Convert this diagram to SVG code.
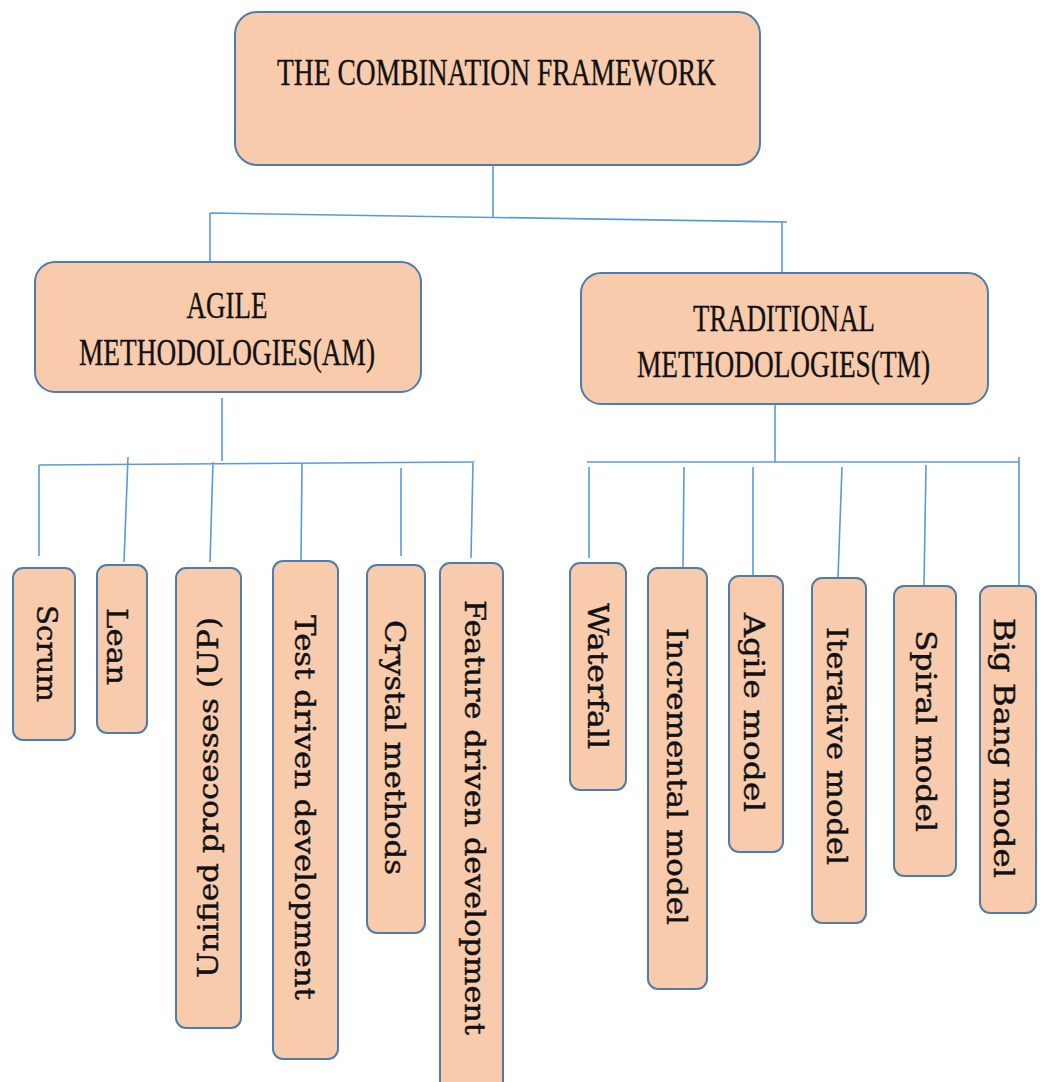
<svg xmlns="http://www.w3.org/2000/svg" width="1043" height="1082" viewBox="0 0 1043 1082">
<style>
.box{fill:#F7CBAC;stroke:#4F7DAB;stroke-width:2}
.head{font-family:"Liberation Serif","Times New Roman",serif;font-size:37px;fill:#111111;stroke:#111111;stroke-width:0.3;text-anchor:middle}
.leaf{font-family:"DejaVu Serif","Liberation Serif",serif;font-size:28px;fill:#111111;stroke:#111111;stroke-width:0.4;text-anchor:middle}
.ln{stroke:#5B9BD5;stroke-width:1.6;fill:none}
</style>
<rect width="1043" height="1082" fill="#ffffff"/>
<g id="connectors">
<path class="ln" d="M493 165V217M210 213L787 222M210 213V262M782 221V273"/>
<path class="ln" d="M222 398V461M39 465L474 462M39 465V556M128 457L124 562M213 462L210 562M302 463L301 560M401 468V556M473 462L471 558"/>
<path class="ln" d="M775 404V462M587 462H1019M1019 457V587M589 467V558M684 467L683 567M753 467V575M842 467L838 578M926 465L924 585"/>
</g>
<g id="root"><rect class="box" x="235" y="12" width="525" height="153" rx="22"/><text class="head" x="496.5" y="85" textLength="439" lengthAdjust="spacingAndGlyphs">THE COMBINATION FRAMEWORK</text></g>
<g id="agile"><rect class="box" x="35" y="262" width="386" height="130" rx="20"/><text class="head" x="227" y="318" textLength="81" lengthAdjust="spacingAndGlyphs">AGILE</text><text class="head" x="227" y="365" textLength="296" lengthAdjust="spacingAndGlyphs">METHODOLOGIES(AM)</text></g>
<g id="traditional"><rect class="box" x="581" y="273" width="407" height="131" rx="20"/><text class="head" x="784" y="331" textLength="182" lengthAdjust="spacingAndGlyphs">TRADITIONAL</text><text class="head" x="783.5" y="377" textLength="293" lengthAdjust="spacingAndGlyphs">METHODOLOGIES(TM)</text></g>
<g id="scrum"><rect class="box" x="13" y="568" width="62" height="172" rx="10"/><text class="leaf" transform="translate(36.5 653.5) rotate(90)" textLength="97" lengthAdjust="spacingAndGlyphs">Scrum</text></g>
<g id="lean"><rect class="box" x="97" y="565" width="50" height="168" rx="10"/><text class="leaf" transform="translate(106.5 646.5) rotate(90)" textLength="77" lengthAdjust="spacingAndGlyphs">Lean</text></g>
<g id="unified"><rect class="box" x="176" y="568" width="65" height="460" rx="10"/><text class="leaf" transform="translate(217.5 797.5) rotate(-90)" textLength="361" lengthAdjust="spacingAndGlyphs">Unified processes (UP)</text></g>
<g id="tdd"><rect class="box" x="273" y="561" width="65" height="498" rx="10"/><text class="leaf" transform="translate(294.5 807.5) rotate(90)" textLength="385" lengthAdjust="spacingAndGlyphs">Test driven development</text></g>
<g id="crystal"><rect class="box" x="367" y="565" width="58" height="368" rx="10"/><text class="leaf" transform="translate(385 747.5) rotate(90)" textLength="255" lengthAdjust="spacingAndGlyphs">Crystal methods</text></g>
<g id="fdd"><rect class="box" x="440" y="563" width="63" height="530" rx="10"/><text class="leaf" transform="translate(464.5 817.5) rotate(90)" textLength="435" lengthAdjust="spacingAndGlyphs">Feature driven development</text></g>
<g id="waterfall"><rect class="box" x="570" y="563" width="56" height="227" rx="10"/><text class="leaf" transform="translate(587.5 676) rotate(90)" textLength="146" lengthAdjust="spacingAndGlyphs">Waterfall</text></g>
<g id="incremental"><rect class="box" x="648" y="568" width="59" height="421" rx="10"/><text class="leaf" transform="translate(666.5 776.5) rotate(90)" textLength="297" lengthAdjust="spacingAndGlyphs">Incremental model</text></g>
<g id="agilemodel"><rect class="box" x="729" y="576" width="54" height="276" rx="10"/><text class="leaf" transform="translate(744 712.5) rotate(90)" textLength="199" lengthAdjust="spacingAndGlyphs">Agile model</text></g>
<g id="iterative"><rect class="box" x="812" y="578" width="54" height="345" rx="10"/><text class="leaf" transform="translate(826.5 746) rotate(90)" textLength="238" lengthAdjust="spacingAndGlyphs">Iterative model</text></g>
<g id="spiral"><rect class="box" x="894" y="586" width="62" height="290" rx="10"/><text class="leaf" transform="translate(916 731) rotate(90)" textLength="202" lengthAdjust="spacingAndGlyphs">Spiral model</text></g>
<g id="bigbang"><rect class="box" x="980" y="586" width="56" height="327" rx="10"/><text class="leaf" transform="translate(994 748) rotate(90)" textLength="260" lengthAdjust="spacingAndGlyphs">Big Bang model</text></g>
</svg>
